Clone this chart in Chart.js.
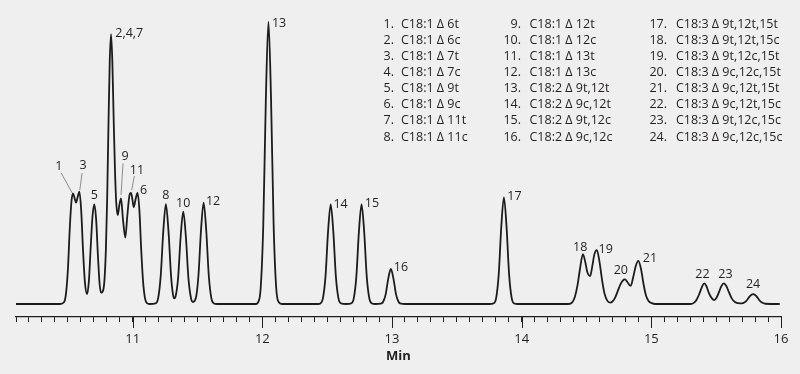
<!DOCTYPE html>
<html>
<head>
<meta charset="utf-8">
<script src="https://cdn.jsdelivr.net/npm/chart.js@4.4.1/dist/chart.umd.min.js"></script>
<style>
  html, body { margin: 0; padding: 0; background: #efefef; }
</style>
</head>
<body>
<canvas id="chart" width="800" height="374"></canvas>
<script>
// chromatogram trace, retention time (min) and detector response (rel. to peak 13 = 100)
const retentionTime = [
  10.10, 10.44, 10.47, 10.485, 10.50, 10.515, 10.528, 10.540, 10.552, 10.563, 10.576, 10.589,
  10.603, 10.617, 10.632, 10.648, 10.662, 10.676, 10.690, 10.704, 10.718, 10.732, 10.745, 10.756,
  10.773, 10.783, 10.793, 10.803, 10.813, 10.823, 10.833, 10.843, 10.853, 10.863, 10.873, 10.885,
  10.897, 10.910, 10.925, 10.943, 10.958, 10.975, 10.987, 10.998, 11.008, 11.024, 11.038, 11.052,
  11.066, 11.080, 11.095, 11.110, 11.130,
  11.176, 11.196, 11.216, 11.236, 11.256, 11.276, 11.296, 11.310, 11.320,
  11.330, 11.350, 11.370, 11.390, 11.410, 11.430, 11.450, 11.464,
  11.487, 11.507, 11.527, 11.547, 11.567, 11.587, 11.607, 11.627, 11.650,
  11.950, 11.967, 11.987, 12.007, 12.027, 12.047, 12.067, 12.087, 12.107, 12.127, 12.150,
  12.430, 12.447, 12.467, 12.487, 12.507, 12.527, 12.547, 12.567, 12.587, 12.607, 12.646,
  12.685, 12.705, 12.725, 12.745, 12.765, 12.785, 12.805, 12.825, 12.845, 12.873,
  12.911, 12.931, 12.951, 12.971, 12.991, 13.011, 13.031, 13.051, 13.071, 13.100,
  13.750, 13.783, 13.803, 13.823, 13.843, 13.863, 13.883, 13.903, 13.923, 13.943, 13.970,
  14.360, 14.390, 14.410, 14.430, 14.450, 14.472, 14.490, 14.505, 14.528, 14.545, 14.560, 14.580,
  14.600, 14.620, 14.640, 14.660, 14.682, 14.700, 14.720, 14.740, 14.760, 14.780, 14.797, 14.815,
  14.841, 14.860, 14.880, 14.900, 14.920, 14.940, 14.960, 14.980, 15.003, 15.030,
  15.300, 15.330, 15.350, 15.370, 15.390, 15.408, 15.425, 15.445, 15.470, 15.485, 15.500, 15.520,
  15.540, 15.560, 15.580, 15.600, 15.620, 15.645, 15.670, 15.696, 15.720, 15.740, 15.760, 15.785,
  15.810, 15.830, 15.850, 15.880, 15.990
];
const signal = [
  0, 0, 0.6, 3.5, 12, 27, 36.5, 39.2, 37.5, 35.9, 38, 39.8,
  33, 19, 7.5, 3.5, 8, 20, 31, 35.3, 30, 17, 7, 4,
  5, 9, 19, 37, 63, 86, 95.6, 86, 66, 48, 36, 31.5,
  35, 37.4, 30, 23.5, 31, 38.5, 39.4, 37, 34.3, 37.5, 39.4, 33,
  19, 8, 2, 0.3, 0,
  0.2, 2.0, 9.9, 25.8, 35.4, 25.8, 9.9, 3.6, 2.0,
  2.6, 9.1, 23.9, 32.7, 23.9, 9.1, 2.0, 0.7,
  2.1, 10.0, 26.2, 35.9, 26.2, 10.0, 2.0, 0.2, 0,
  0, 0.6, 5.6, 27.8, 72.6, 100, 72.6, 27.8, 5.6, 0.6, 0,
  0, 0.2, 2.0, 9.8, 25.8, 35.3, 25.8, 9.8, 2.0, 0.2, 0,
  0.2, 2.0, 9.8, 25.8, 35.3, 25.8, 9.8, 2.0, 0.2, 0,
  0.1, 0.7, 3.4, 9.0, 12.4, 9.0, 3.4, 0.7, 0.1, 0,
  0, 0.2, 2.1, 10.5, 27.6, 37.8, 27.6, 10.5, 2.1, 0.2, 0,
  0, 0.6, 2.5, 6.5, 12.5, 17.7, 15, 11.5, 9.9, 13.5, 17.5, 19.1,
  15, 8.5, 3.5, 1.2, 0.5, 0.9, 2.2, 4.5, 6.8, 8.3, 8.7, 7.8,
  6.4, 9.5, 13.5, 15.3, 12.5, 7, 2.8, 1, 0.3, 0,
  0, 0.5, 1.6, 3.6, 6, 7.3, 6.3, 3.8, 1.8, 1.4, 2, 4,
  6.3, 7.3, 6.2, 4, 2, 0.7, 0.3, 0.2, 0.6, 1.5, 2.8, 3.5,
  2.8, 1.5, 0.6, 0.1, 0
];

// peak tops and their labels
const peakLabels = ["1", "3", "5", "2,4,7", "9", "11", "6", "8", "10", "12", "13", "14",
  "15", "16", "17", "18", "19", "20", "21", "22", "23", "24"];
const peakTimes = [10.540, 10.589, 10.704, 10.833, 10.910, 10.987, 11.038, 11.256, 11.390, 11.547, 12.047, 12.527,
  12.765, 12.991, 13.863, 14.472, 14.580, 14.797, 14.900, 15.408, 15.560, 15.785];
const peakHeights = [39.2, 39.8, 35.3, 95.6, 37.4, 39.4, 39.4, 35.4, 32.7, 35.9, 100, 35.3,
  35.3, 12.4, 37.8, 17.7, 19.1, 8.7, 15.3, 7.3, 7.3, 3.5];

// peak identification list
const compoundNumbers = ["1.", "2.", "3.", "4.", "5.", "6.", "7.", "8.", "9.", "10.", "11.", "12.",
  "13.", "14.", "15.", "16.", "17.", "18.", "19.", "20.", "21.", "22.", "23.", "24."];
const compoundNames = [
  "C18:1 \u0394 6t", "C18:1 \u0394 6c", "C18:1 \u0394 7t", "C18:1 \u0394 7c",
  "C18:1 \u0394 9t", "C18:1 \u0394 9c", "C18:1 \u0394 11t", "C18:1 \u0394 11c",
  "C18:1 \u0394 12t", "C18:1 \u0394 12c", "C18:1 \u0394 13t", "C18:1 \u0394 13c",
  "C18:2 \u0394 9t,12t", "C18:2 \u0394 9c,12t", "C18:2 \u0394 9t,12c", "C18:2 \u0394 9c,12c",
  "C18:3 \u0394 9t,12t,15t", "C18:3 \u0394 9t,12t,15c", "C18:3 \u0394 9t,12c,15t", "C18:3 \u0394 9c,12c,15t",
  "C18:3 \u0394 9c,12t,15t", "C18:3 \u0394 9c,12t,15c", "C18:3 \u0394 9t,12c,15c", "C18:3 \u0394 9c,12c,15c"
];

const majorTicks = [11, 12, 13, 14, 15, 16];

// where each peak label sits relative to its peak top (px); lead = leader line
const labelPlacement = [
  { dx: -14.3, dy: -27, align: "center", lead: [-12, -20.6, -1, -0.6] },
  { dx: 3.7, dy: -26.7, align: "center", lead: [2.7, -18.7, 0.4, -1.7] },
  { dx: 0, dy: -8.5, align: "center" },
  { dx: 4.3, dy: -1, align: "left" },
  { dx: 4, dy: -41.6, align: "center", lead: [2, -35, 0, -3.3] },
  { dx: 6, dy: -22.7, align: "center", lead: [3.3, -16.7, 0.7, -2.7] },
  { dx: 2.3, dy: -2, align: "left" },
  { dx: 0, dy: -9, align: "center" },
  { dx: 0, dy: -8, align: "center" },
  { dx: 2.3, dy: -1, align: "left" },
  { dx: 3.5, dy: 1.5, align: "left" },
  { dx: 2.7, dy: 0, align: "left" },
  { dx: 3.3, dy: -1, align: "left" },
  { dx: 3, dy: -1.3, align: "left" },
  { dx: 3.4, dy: -0.6, align: "left" },
  { dx: -2.7, dy: -7, align: "center" },
  { dx: 1.6, dy: -0.5, align: "left" },
  { dx: -4.2, dy: -8.8, align: "center" },
  { dx: 4.4, dy: -2.4, align: "left" },
  { dx: -1.8, dy: -8.8, align: "center" },
  { dx: 1.5, dy: -9, align: "center" },
  { dx: 0, dy: -9.3, align: "center" }
];

const ink = "#231f20";
const fontFamily = '"Open Sans", "Noto Sans", sans-serif';
Chart.defaults.font.family = fontFamily;
Chart.defaults.color = ink;

const annotate = {
  id: "annotate",
  afterDraw(chart) {
    const { ctx, chartArea, scales: { x, y } } = chart;
    ctx.save();

    // longer marks at whole minutes
    ctx.strokeStyle = ink;
    ctx.lineWidth = 1;
    majorTicks.forEach(v => {
      const px = Math.round(x.getPixelForValue(v)) + 0.5;
      ctx.beginPath();
      ctx.moveTo(px, chartArea.bottom);
      ctx.lineTo(px, chartArea.bottom + 11);
      ctx.stroke();
    });

    // peak numbers
    ctx.font = "12.5px " + fontFamily;
    ctx.fillStyle = ink;
    ctx.textBaseline = "middle";
    peakLabels.forEach((txt, i) => {
      const px = x.getPixelForValue(peakTimes[i]);
      const py = y.getPixelForValue(peakHeights[i]);
      const p = labelPlacement[i];
      if (p.lead) {
        ctx.strokeStyle = "#8c8c8c";
        ctx.lineWidth = 1;
        ctx.beginPath();
        ctx.moveTo(px + p.lead[0], py + p.lead[1]);
        ctx.lineTo(px + p.lead[2], py + p.lead[3]);
        ctx.stroke();
      }
      ctx.textAlign = p.align;
      ctx.fillText(txt, px + p.dx, py + p.dy);
    });

    // compound list, three columns of eight
    const numRight = [394, 521, 667];
    const nameLeft = [401, 529.5, 676];
    compoundNames.forEach((name, i) => {
      const col = Math.floor(i / 8);
      const row = i % 8;
      const ty = 24.3 + row * 16.1;
      ctx.textAlign = "right";
      ctx.fillText(compoundNumbers[i], numRight[col], ty);
      ctx.textAlign = "left";
      ctx.fillText(name, nameLeft[col], ty);
    });
    ctx.restore();
  }
};

new Chart(document.getElementById("chart"), {
  type: "line",
  data: {
    datasets: [{
      data: retentionTime.map((t, i) => ({ x: t, y: signal[i] })),
      borderColor: "#1c1c1c",
      borderWidth: 1.8,
      pointRadius: 0,
      cubicInterpolationMode: "monotone",
      fill: false
    }]
  },
  options: {
    responsive: false,
    devicePixelRatio: 1,
    animation: false,
    layout: { padding: { left: 16, right: 19, top: 10, bottom: 9.5 } },
    plugins: { legend: { display: false }, tooltip: { enabled: false } },
    scales: {
      x: {
        type: "linear",
        min: 10.1,
        max: 16,
        border: { display: true, color: ink, width: 1.2 },
        grid: { drawOnChartArea: false, drawTicks: true, tickLength: 5, color: ink },
        ticks: {
          stepSize: 0.1,
          autoSkip: false,
          maxRotation: 0,
          padding: 9,
          color: ink,
          font: { size: 13 },
          callback: v => Math.abs(v - Math.round(v)) < 1e-6 ? String(Math.round(v)) : ""
        },
        title: {
          display: true,
          text: "Min",
          color: ink,
          font: { size: 13, weight: "bold" },
          padding: { top: -6.7, bottom: 0 }
        }
      },
      y: {
        display: false,
        min: -4.6,
        max: 104.15
      }
    }
  },
  plugins: [annotate]
});
</script>
</body>
</html>
